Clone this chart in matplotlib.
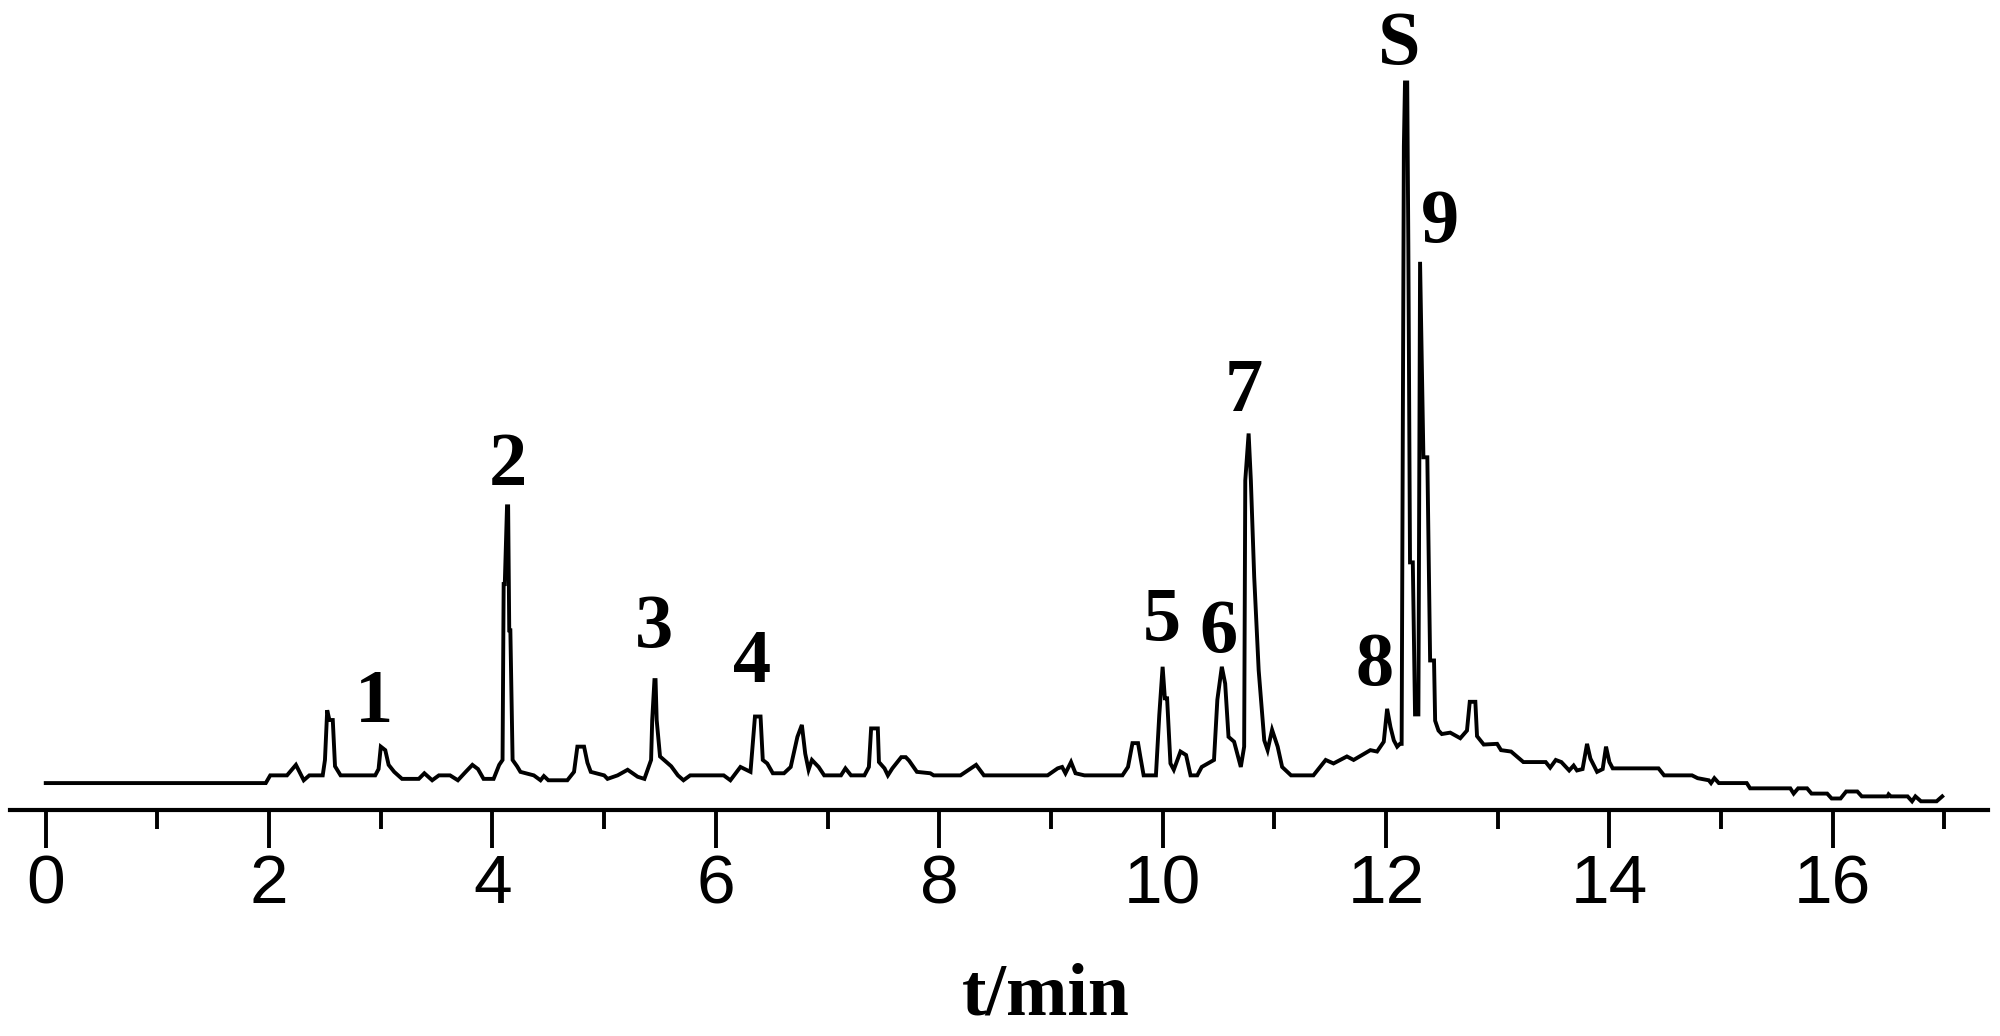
import matplotlib
matplotlib.use("Agg")
import matplotlib.pyplot as plt
from matplotlib.ticker import MultipleLocator

# chromatogram trace: retention time (min) / detector signal (S peak = 100)
trace_time = [
    0.00, 1.97, 2.01, 2.16, 2.24, 2.31, 2.36, 2.48, 2.50, 2.52, 2.54, 2.57, 2.59, 2.64,
    2.95, 2.98, 3.00, 3.04, 3.07, 3.12, 3.19, 3.34, 3.39, 3.46, 3.52, 3.62, 3.69, 3.76,
    3.82, 3.87, 3.92, 4.01, 4.06, 4.09, 4.10, 4.11, 4.13, 4.14, 4.15, 4.16, 4.18, 4.22,
    4.25, 4.37, 4.43, 4.46, 4.50, 4.67, 4.73, 4.76, 4.82, 4.85, 4.88, 5.00, 5.03, 5.12,
    5.21, 5.30, 5.36, 5.42, 5.43, 5.45, 5.46, 5.47, 5.50, 5.60, 5.66, 5.71, 5.77, 6.07,
    6.13, 6.22, 6.31, 6.35, 6.40, 6.42, 6.46, 6.51, 6.61, 6.67, 6.73, 6.77, 6.80, 6.83,
    6.86, 6.92, 6.97, 7.12, 7.16, 7.21, 7.33, 7.37, 7.39, 7.45, 7.46, 7.51, 7.54, 7.58,
    7.66, 7.70, 7.73, 7.80, 7.92, 7.95, 8.19, 8.33, 8.40, 8.97, 9.06, 9.10, 9.13, 9.18,
    9.22, 9.30, 9.64, 9.69, 9.73, 9.78, 9.80, 9.83, 9.94, 9.97, 10.00, 10.02, 10.04, 10.07,
    10.10, 10.16, 10.21, 10.25, 10.31, 10.35, 10.46, 10.49, 10.53, 10.56, 10.59, 10.64, 10.70, 10.73,
    10.74, 10.77, 10.79, 10.82, 10.86, 10.91, 10.94, 10.98, 11.03, 11.07, 11.15, 11.35, 11.46, 11.53,
    11.65, 11.71, 11.86, 11.92, 11.98, 12.01, 12.04, 12.07, 12.10, 12.125, 12.14, 12.16, 12.17, 12.19,
    12.20, 12.215, 12.24, 12.26, 12.29, 12.305, 12.335, 12.37, 12.395, 12.43, 12.44, 12.47, 12.50, 12.575,
    12.665, 12.725, 12.75, 12.80, 12.815, 12.875, 12.995, 13.03, 13.12, 13.23, 13.43, 13.47, 13.52, 13.57,
    13.64, 13.68, 13.71, 13.76, 13.80, 13.83, 13.89, 13.94, 13.97, 14.00, 14.03, 14.44, 14.49, 14.74,
    14.79, 14.89, 14.91, 14.94, 14.98, 15.23, 15.26, 15.62, 15.65, 15.69, 15.77, 15.81, 15.95, 15.99,
    16.07, 16.12, 16.22, 16.26, 16.49, 16.50, 16.52, 16.67, 16.71, 16.74, 16.79, 16.93, 16.98,
]
trace_signal = [
    0.0, 0.0, 1.1, 1.1, 2.6, 0.4, 1.1, 1.1, 3.3, 10.4, 9.0, 9.0, 2.4, 1.1,
    1.1, 2.0, 5.2, 4.7, 2.6, 1.6, 0.6, 0.6, 1.4, 0.4, 1.1, 1.1, 0.4, 1.6,
    2.6, 2.0, 0.6, 0.6, 2.6, 3.3, 28.4, 28.4, 39.5, 39.5, 21.8, 21.8, 3.3, 2.4,
    1.6, 1.1, 0.4, 1.0, 0.4, 0.4, 1.6, 5.2, 5.2, 2.9, 1.6, 1.1, 0.6, 1.1,
    1.9, 0.9, 0.6, 3.3, 9.0, 14.7, 14.7, 9.0, 3.8, 2.4, 1.1, 0.4, 1.1, 1.1,
    0.4, 2.3, 1.6, 9.5, 9.5, 3.3, 2.8, 1.4, 1.4, 2.3, 6.6, 8.3, 4.2, 1.9,
    3.3, 2.3, 1.1, 1.1, 2.1, 1.1, 1.1, 2.3, 7.8, 7.8, 3.0, 2.1, 1.1, 2.1,
    3.7, 3.7, 3.2, 1.6, 1.4, 1.1, 1.1, 2.6, 1.1, 1.1, 2.1, 2.3, 1.4, 3.0,
    1.4, 1.1, 1.1, 2.3, 5.7, 5.7, 3.8, 1.1, 1.1, 9.7, 16.6, 12.1, 12.1, 2.8,
    1.9, 4.5, 4.0, 1.1, 1.1, 2.3, 3.3, 11.9, 16.6, 14.2, 6.6, 5.9, 2.3, 5.2,
    43.2, 49.9, 43.2, 29.4, 16.1, 6.1, 4.7, 7.6, 5.2, 2.3, 1.1, 1.1, 3.3, 2.8,
    3.8, 3.3, 4.7, 4.5, 5.9, 10.6, 8.0, 6.1, 5.2, 5.6, 5.6, 90.9, 100.0, 100.0,
    76.6, 31.5, 31.5, 9.8, 9.8, 74.4, 46.5, 46.5, 17.5, 17.5, 8.9, 7.5, 7.0, 7.2,
    6.4, 7.5, 11.6, 11.6, 6.7, 5.5, 5.6, 4.7, 4.5, 3.0, 3.0, 2.2, 3.3, 3.0,
    1.8, 2.5, 1.8, 2.0, 5.6, 3.5, 1.6, 2.0, 5.2, 3.0, 2.1, 2.1, 1.1, 1.1,
    0.7, 0.4, 0.0, 0.7, 0.0, 0.0, -0.75, -0.75, -1.5, -0.75, -0.75, -1.5, -1.5, -2.2,
    -2.2, -1.2, -1.2, -1.9, -1.9, -1.6, -1.9, -1.9, -2.6, -1.9, -2.6, -2.6, -1.9,
]

# peak labels and where they sit (time, signal)
peak_names = ["1", "2", "3", "4", "5", "6", "7", "8", "S", "9"]
peak_label_time = [2.94, 4.14, 5.45, 6.32, 9.99, 10.50, 10.73, 11.90, 12.12, 12.48]
peak_label_signal = [11.4, 45.2, 22.0, 17.1, 23.0, 21.4, 55.8, 16.7, 105.3, 79.9]

major_ticks = [0, 2, 4, 6, 8, 10, 12, 14, 16]

fig = plt.figure(figsize=(20, 10.36), dpi=100)
ax = fig.add_axes([0.005, 0.2181, 0.989, 0.7361])

ax.plot(trace_time, trace_signal, color="black", lw=2.8, solid_joinstyle="miter")

for name, t, s in zip(peak_names, peak_label_time, peak_label_signal):
    ax.text(t, s, name, ha="center", va="center", fontsize=55, fontweight="bold",
            family=["Liberation Serif", "DejaVu Serif"], clip_on=False)

ax.set_xlim(-0.32, 17.39)
ax.set_ylim(-3.85, 105)

for side in ["top", "left", "right"]:
    ax.spines[side].set_visible(False)
ax.spines["bottom"].set_linewidth(3.0)
ax.set_yticks([])

ax.set_xticks(major_ticks)
ax.set_xticklabels([str(v) for v in major_ticks])
ax.xaxis.set_minor_locator(MultipleLocator(1))
ax.tick_params(axis="x", which="major", direction="out", length=27, width=2.8, pad=4)
ax.tick_params(axis="x", which="minor", direction="out", length=14, width=2.8)
for lab in ax.get_xticklabels():
    lab.set_family(["Liberation Sans", "DejaVu Sans"])
    lab.set_fontsize(50)

ax.set_xlabel("t/min", fontsize=53, fontweight="bold",
              family=["Liberation Serif", "DejaVu Serif"])
ax.xaxis.set_label_coords(0.5236, -0.2675)
ax.xaxis.label.set_va("baseline")

fig.savefig("out.png", dpi=100)
